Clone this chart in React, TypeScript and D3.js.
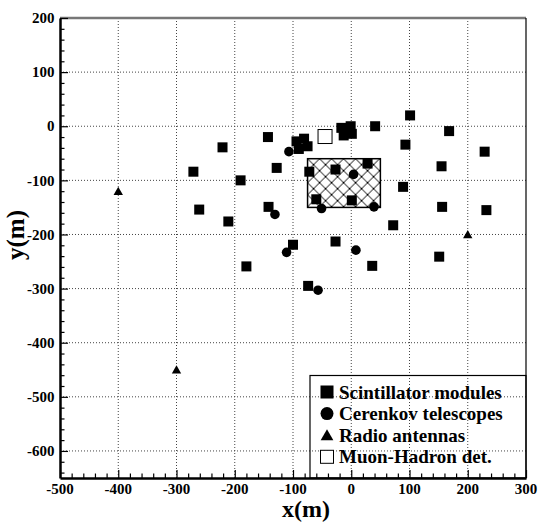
import React, { useEffect, useRef } from "react";
import * as d3 from "d3";

// detector positions in metres
const scintillators: [number, number][] = [
  [-271, -84], [-261, -154], [-221, -39], [-211, -176], [-190, -100],
  [-180, -259], [-143, -20], [-142, -149], [-128, -77], [-100, -219],
  [-94, -28], [-81, -23], [-75, -37], [-90, -42], [-72, -84],
  [-60, -135], [-74, -295], [-27, -80], [-27, -213], [-17, -3],
  [-1, 0], [-13, -17], [1, -14], [1, -137], [28, -69],
  [41, 0], [36, -258], [72, -183], [89, -112], [93, -34],
  [101, 20], [151, -241], [155, -74], [156, -149], [168, -9],
  [229, -47], [232, -155],
];
const cerenkov: [number, number][] = [
  [-107, -47], [-131, -163], [4, -89], [-51, -152],
  [39, -149], [-111, -233], [8, -229], [-57, -303],
];
const radio: [number, number][] = [[-400, -120], [-300, -450], [200, -200]];
const muonHadron: [number, number][] = [[-45, -19]];
// hatched area: x from, x to, y from, y to
const hatchArea = [-75, 50, -150, -60];

const xTicks = [-500, -400, -300, -200, -100, 0, 100, 200, 300];
const yTicks = [-600, -500, -400, -300, -200, -100, 0, 100, 200];
const legendLabels = [
  "Scintillator modules",
  "Cerenkov telescopes",
  "Radio antennas",
  "Muon-Hadron det.",
];

const W = 539;
const H = 524;
const left = 60, right = 526, top = 18, bottom = 478;
const font = "'Liberation Serif', 'Times New Roman', serif";

const App = () => {
  const ref = useRef<SVGSVGElement>(null);

  useEffect(() => {
    const svg = d3.select(ref.current);
    svg.selectAll("*").remove();

    const x = d3.scaleLinear().domain([-500, 300]).range([left, right]);
    const y = d3.scaleLinear().domain([-650, 200]).range([bottom, top]);

    // hatch pattern
    const defs = svg.append("defs");
    const pat = defs
      .append("pattern")
      .attr("id", "xhatch")
      .attr("patternUnits", "userSpaceOnUse")
      .attr("x", x(hatchArea[0]))
      .attr("y", y(hatchArea[3]))
      .attr("width", 12)
      .attr("height", 12);
    pat.append("rect").attr("width", 12).attr("height", 12).attr("fill", "white");
    pat
      .append("path")
      .attr("d", "M0,0L12,12M12,0L0,12M-1,11L1,13M11,-1L13,1M11,13L13,11M-1,1L1,-1")
      .attr("stroke", "black")
      .attr("stroke-width", 1);

    // grid
    const grid = svg.append("g").attr("stroke", "#444").attr("stroke-dasharray", "1 2");
    grid
      .selectAll("line.v")
      .data(xTicks.slice(1, -1))
      .join("line")
      .attr("x1", (d) => x(d))
      .attr("x2", (d) => x(d))
      .attr("y1", bottom)
      .attr("y2", top);
    grid
      .selectAll("line.h")
      .data(yTicks.slice(0, -1))
      .join("line")
      .attr("class", "h")
      .attr("x1", left)
      .attr("x2", right)
      .attr("y1", (d) => y(d))
      .attr("y2", (d) => y(d));

    // frame
    svg
      .append("line")
      .attr("x1", left).attr("x2", right).attr("y1", top).attr("y2", top)
      .attr("stroke", "#777").attr("stroke-width", 2.5);
    svg
      .append("line")
      .attr("x1", right).attr("x2", right).attr("y1", top).attr("y2", bottom)
      .attr("stroke", "black").attr("stroke-width", 1.2);

    // axes with inward ticks
    const xAxis = d3
      .axisBottom(x)
      .tickValues(d3.range(-500, 301, 20))
      .tickSize(0)
      .tickFormat(() => "");
    const gx = svg.append("g").attr("transform", `translate(0,${bottom})`).call(xAxis);
    gx.select(".domain").attr("stroke-width", 2.5);
    gx.selectAll(".tick line")
      .attr("y2", (d: any) => (d % 100 === 0 ? -8 : -4.5))
      .attr("stroke-width", 1.2);

    const yAxis = d3
      .axisLeft(y)
      .tickValues(d3.range(-640, 201, 20))
      .tickSize(0)
      .tickFormat(() => "");
    const gy = svg.append("g").attr("transform", `translate(${left},0)`).call(yAxis);
    gy.select(".domain").attr("stroke-width", 2.5);
    gy.selectAll(".tick line")
      .attr("x2", (d: any) => (d % 100 === 0 ? 8 : 4.5))
      .attr("stroke-width", 1.2);

    // tick labels
    svg
      .append("g")
      .attr("font-family", font)
      .attr("font-weight", "bold")
      .attr("font-size", 15)
      .attr("text-anchor", "middle")
      .selectAll("text")
      .data(xTicks)
      .join("text")
      .attr("x", (d) => x(d))
      .attr("y", 494)
      .text((d) => d);
    svg
      .append("g")
      .attr("font-family", font)
      .attr("font-weight", "bold")
      .attr("font-size", 15)
      .attr("text-anchor", "end")
      .selectAll("text")
      .data(yTicks)
      .join("text")
      .attr("x", 54.5)
      .attr("y", (d) => y(d))
      .attr("dy", "0.35em")
      .text((d) => d);

    // axis titles
    svg
      .append("text")
      .attr("x", 306)
      .attr("y", 517)
      .attr("text-anchor", "middle")
      .attr("font-family", font)
      .attr("font-weight", "bold")
      .attr("font-size", 24)
      .text("x(m)");
    svg
      .append("text")
      .attr("transform", "translate(24,235) rotate(-90)")
      .attr("text-anchor", "middle")
      .attr("font-family", font)
      .attr("font-weight", "bold")
      .attr("font-size", 25)
      .text("y(m)");

    // hatched box
    svg
      .append("rect")
      .attr("x", x(hatchArea[0]))
      .attr("y", y(hatchArea[3]))
      .attr("width", x(hatchArea[1]) - x(hatchArea[0]))
      .attr("height", y(hatchArea[2]) - y(hatchArea[3]))
      .attr("fill", "url(#xhatch)")
      .attr("stroke", "black")
      .attr("stroke-width", 1.5);

    const marks = svg.append("g");
    const sq = 10;
    marks
      .selectAll("rect.s")
      .data(scintillators)
      .join("rect")
      .attr("x", (d) => x(d[0]) - sq / 2)
      .attr("y", (d) => y(d[1]) - sq / 2)
      .attr("width", sq)
      .attr("height", sq)
      .attr("fill", "black");
    marks
      .selectAll("circle")
      .data(cerenkov)
      .join("circle")
      .attr("cx", (d) => x(d[0]))
      .attr("cy", (d) => y(d[1]))
      .attr("r", 4.8)
      .attr("fill", "black");
    const tri = d3.symbol(d3.symbolTriangle, 38);
    marks
      .selectAll("path.t")
      .data(radio)
      .join("path")
      .attr("transform", (d) => `translate(${x(d[0])},${y(d[1]) + 1})`)
      .attr("d", tri())
      .attr("fill", "black");
    marks
      .selectAll("rect.m")
      .data(muonHadron)
      .join("rect")
      .attr("x", (d) => x(d[0]) - 7)
      .attr("y", (d) => y(d[1]) - 7)
      .attr("width", 14)
      .attr("height", 14)
      .attr("fill", "white")
      .attr("stroke", "black")
      .attr("stroke-width", 1);

    // legend
    const lg = svg.append("g");
    lg.append("rect")
      .attr("x", 310)
      .attr("y", 375.5)
      .attr("width", right - 310)
      .attr("height", bottom - 375.5)
      .attr("fill", "none")
      .attr("stroke", "black")
      .attr("stroke-width", 1.2);
    const rowY = (i: number) => 392 + i * 21.6;
    const mx = 327;
    lg.append("rect")
      .attr("x", mx - 6.5).attr("y", rowY(0) - 6.5)
      .attr("width", 13).attr("height", 13).attr("fill", "black");
    lg.append("circle").attr("cx", mx).attr("cy", rowY(1)).attr("r", 6.5).attr("fill", "black");
    lg.append("path")
      .attr("transform", `translate(${mx},${rowY(2) + 1.5})`)
      .attr("d", d3.symbol(d3.symbolTriangle, 70)())
      .attr("fill", "black");
    lg.append("rect")
      .attr("x", mx - 6.5).attr("y", rowY(3) - 6.5)
      .attr("width", 13).attr("height", 13)
      .attr("fill", "white").attr("stroke", "black").attr("stroke-width", 1);
    lg.selectAll("text")
      .data(legendLabels)
      .join("text")
      .attr("x", 339)
      .attr("y", (d, i) => rowY(i) + 6.6)
      .attr("font-family", font)
      .attr("font-weight", "bold")
      .attr("font-size", 19)
      .text((d) => d);
  }, []);

  return (
    <svg
      ref={ref}
      width={W}
      height={H}
      style={{ position: "absolute", left: 0, top: 0, background: "white" }}
    />
  );
};

export default App;
